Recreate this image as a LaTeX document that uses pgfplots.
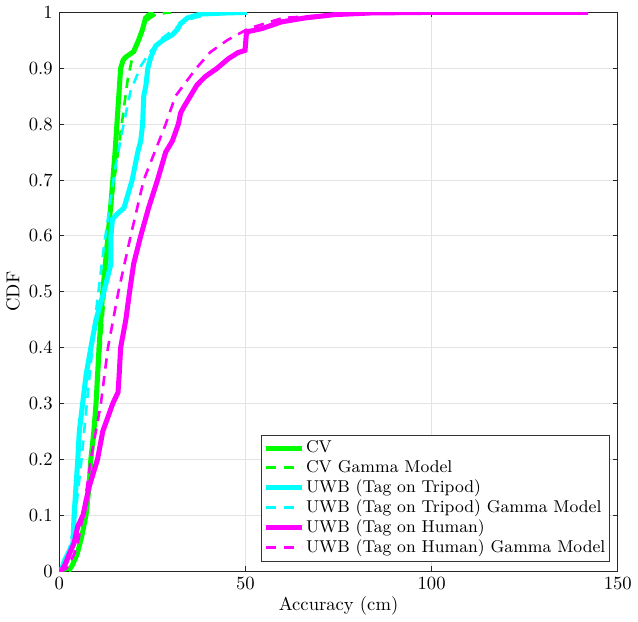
\documentclass[border=0pt]{standalone}
\usepackage{pgfplots}
\pgfplotsset{compat=1.18}
\definecolor{mg}{rgb}{0,1,0}
\definecolor{mc}{rgb}{0,1,1}
\definecolor{mm}{rgb}{1,0,1}
\begin{document}
\begin{tikzpicture}
\begin{axis}[
  scale only axis, width=300pt, height=300pt,
  xmin=0, xmax=150, ymin=0, ymax=1,
  xtick={0,50,100,150}, ytick={0,0.1,...,1.0},
  yticklabels={0,0.1,0.2,0.3,0.4,0.5,0.6,0.7,0.8,0.9,1},
  grid=major, grid style={gray!22, line width=0.5pt},
  tick align=inside, tick pos=both, major tick length=2.5pt,
  tick style={black!85, line width=0.4pt},
  axis line style={black!85, line width=0.5pt},
  xlabel={Accuracy (cm)}, ylabel={CDF},
  xlabel style={yshift=3pt}, ylabel style={yshift=-2pt},
  legend style={at={(0.985,0.017)}, anchor=south east, draw=black!80, line width=0.5pt,
    inner xsep=1pt, inner ysep=1pt, row sep=-1.6pt, font=\fontsize{9.2}{11}\selectfont,
    nodes={inner xsep=1pt}},
  legend cell align=left,
  legend image code/.code={\draw[#1] (0pt,0pt) -- (19pt,0pt);},
]
\addplot[mg, line width=2.7pt] coordinates {
(2.5,0) (3.5,0.01) (4.8,0.03) (6,0.06) (7.2,0.1) (8,0.15) (8.5,0.2) (9.3,0.25) (9.9,0.3) (10.3,0.35) (10.7,0.4) (11.2,0.45) (11.7,0.5) (12.4,0.55) (13.1,0.6) (13.8,0.65) (14.4,0.7) (15,0.75) (15.5,0.8) (16,0.85) (16.5,0.9) (17.2,0.915) (17.9,0.92) (20,0.93) (21.3,0.95) (22.4,0.97) (23.2,0.99) (24,0.995) (25.3,1)
};
\addlegendentry{CV}
\addplot[mg, line width=1.4pt, dash pattern=on 5.5pt off 4pt] coordinates {
(0,0) (2,0.002) (3,0.01) (5,0.04) (7,0.11) (8.5,0.19) (10,0.3) (11,0.39) (12,0.48) (13.4,0.6) (14.8,0.7) (16.8,0.8) (18.4,0.88) (19.5,0.915) (21,0.945) (22.5,0.97) (24,0.988) (26,0.997) (30,1)
};
\addlegendentry{CV Gamma Model}
\addplot[mc, line width=2.7pt] coordinates {
(0.5,0) (1.5,0.02) (3,0.04) (3.7,0.05) (4,0.1) (4.5,0.15) (5,0.2) (5.4,0.25) (6.3,0.3) (7.2,0.35) (8.5,0.4) (9.9,0.45) (12,0.5) (13.9,0.55) (13.9,0.6) (14.3,0.63) (15.7,0.64) (17.4,0.65) (19.6,0.7) (21.1,0.75) (21.9,0.77) (22.4,0.8) (22.7,0.85) (23.3,0.87) (23.8,0.9) (24.6,0.92) (25.9,0.94) (27.8,0.95) (30.4,0.96) (31.8,0.97) (32.6,0.98) (34.4,0.99) (37.9,0.997) (45,0.999) (50.4,1)
};
\addlegendentry{UWB (Tag on Tripod)}
\addplot[mc, line width=1.4pt, dash pattern=on 5.5pt off 4pt] coordinates {
(0,0) (2,0.02) (4,0.08) (6,0.2) (8,0.34) (10,0.47) (12,0.58) (13.5,0.65) (15,0.72) (17.3,0.8) (19.2,0.86) (22,0.905) (24.5,0.93) (27.5,0.953) (30.5,0.968) (33,0.98) (36,0.99) (40,0.996) (46,0.999) (50,1)
};
\addlegendentry{UWB (Tag on Tripod) Gamma Model}
\addplot[mm, line width=2.7pt] coordinates {
(0.5,0) (1.5,0.01) (2.7,0.03) (4,0.05) (5,0.08) (6.4,0.1) (8,0.15) (10.3,0.2) (11.7,0.25) (14.4,0.3) (15.8,0.32) (16.1,0.35) (16.5,0.4) (17.9,0.45) (18.9,0.5) (20,0.55) (21.9,0.6) (24,0.65) (26.4,0.7) (28.6,0.75) (30.4,0.77) (32,0.8) (32.6,0.82) (33.4,0.83) (35.2,0.85) (37,0.87) (39.2,0.885) (42.4,0.9) (45.4,0.917) (48,0.928) (49.9,0.932) (50.3,0.965) (54.4,0.971) (59.7,0.983) (65.9,0.99) (73.9,0.996) (83.7,0.999) (100,1) (142,1)
};
\addlegendentry{UWB (Tag on Human)}
\addplot[mm, line width=1.4pt, dash pattern=on 5.5pt off 4pt] coordinates {
(0,0) (2,0.005) (4,0.03) (5,0.05) (6.4,0.1) (8.5,0.2) (11.2,0.3) (13.1,0.4) (15.9,0.5) (19.2,0.6) (22.7,0.7) (28.6,0.8) (31.2,0.85) (36.8,0.9) (40.6,0.929) (45.3,0.951) (50.8,0.971) (60,0.99) (80,0.999) (100,1) (142,1)
};
\addlegendentry{UWB (Tag on Human) Gamma Model}
\end{axis}
\end{tikzpicture}
\end{document}
